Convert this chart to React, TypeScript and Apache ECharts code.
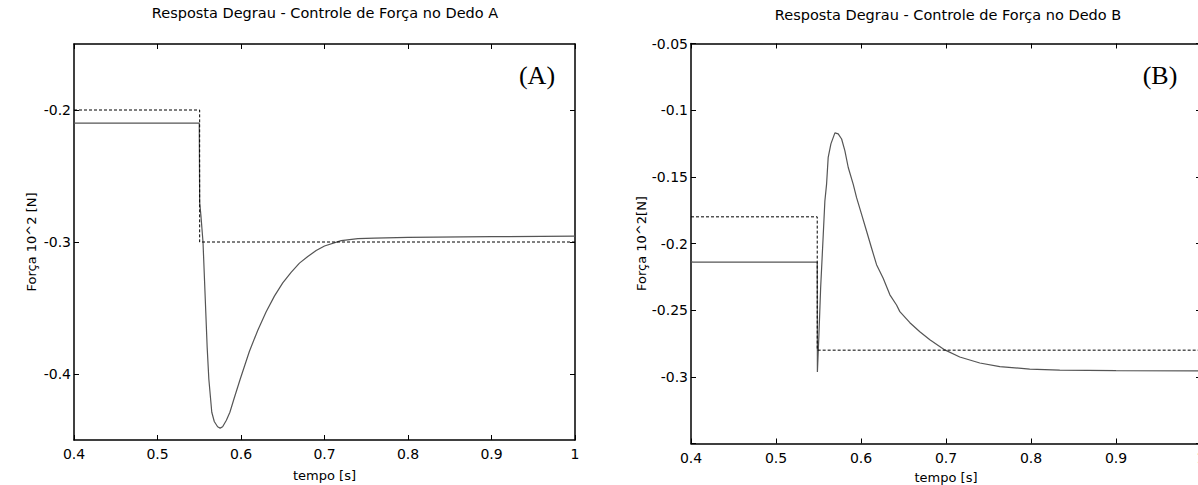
import React, { useEffect, useRef } from "react";
import * as echarts from "echarts";

// ---- Data ----
const xTicks = [0.4, 0.5, 0.6, 0.7, 0.8, 0.9, 1];
const yTicksA = [-0.4, -0.3, -0.2];
const yTicksB = [-0.3, -0.25, -0.2, -0.15, -0.1, -0.05];

const titleA = "Resposta Degrau - Controle de Força no Dedo A";
const titleB = "Resposta Degrau - Controle de Força no Dedo B";
const yNameA = "Força 10^2 [N]";
const yNameB = "Força 10^2[N]";
const xName = "tempo [s]";

// Panel A reference (dashed)
const refATime = [0.4, 0.5505, 0.5505, 1.0];
const refAValue = [-0.2, -0.2, -0.3, -0.3];
// Panel A response (solid)
const respATime = [
  0.4, 0.55, 0.5505, 0.552, 0.5545, 0.557, 0.5595, 0.5615, 0.565, 0.568, 0.572,
  0.575, 0.578, 0.5825, 0.5867, 0.592, 0.599, 0.61, 0.62, 0.63, 0.64, 0.65,
  0.66, 0.67, 0.68, 0.69, 0.7, 0.72, 0.74, 0.76, 0.8, 0.9, 1.0,
];
const respAValue = [
  -0.21, -0.21, -0.27, -0.28, -0.3, -0.34, -0.38, -0.404, -0.429, -0.436, -0.44,
  -0.441, -0.44, -0.435, -0.429, -0.418, -0.404, -0.383, -0.367, -0.353, -0.341,
  -0.331, -0.323, -0.316, -0.311, -0.3065, -0.303, -0.299, -0.2975, -0.297,
  -0.2965, -0.296, -0.2955,
];

// Panel B reference (dashed)
const refBTime = [0.4, 0.5485, 0.5485, 1.0];
const refBValue = [-0.18, -0.18, -0.28, -0.28];
// Panel B response (solid)
const respBTime = [
  0.4, 0.402, 0.5485, 0.5487, 0.5505, 0.5525, 0.5556, 0.5575, 0.5595, 0.5614,
  0.5646, 0.5693, 0.5732, 0.5772, 0.581, 0.585, 0.5908, 0.5948, 0.6007, 0.6066,
  0.6124, 0.6183, 0.6261, 0.634, 0.6418, 0.6457, 0.6575, 0.6692, 0.681, 0.6986,
  0.7162, 0.7398, 0.7633, 0.7985, 0.8338, 0.9, 1.0,
];
const respBValue = [
  -0.2135, -0.214, -0.214, -0.2964, -0.2687, -0.2335, -0.1933, -0.1681, -0.1555,
  -0.1354, -0.1253, -0.117, -0.1178, -0.1216, -0.1304, -0.143, -0.1555, -0.1656,
  -0.1782, -0.1908, -0.2034, -0.2159, -0.226, -0.2385, -0.2461, -0.2511,
  -0.2594, -0.2662, -0.2722, -0.2798, -0.2851, -0.2896, -0.2923, -0.2942,
  -0.2949, -0.2953, -0.2956,
];

const zip = (a: number[], b: number[]) => a.map((t, i) => [t, b[i]]);

const FONT = "DejaVu Sans";
const fmt = (v: number) => String(Number(v.toFixed(2)));

function xAxisPair(gridIndex: number, nameGap: number) {
  const common = {
    type: "value",
    gridIndex,
    min: 0.4,
    max: 1,
    splitLine: { show: false },
    axisLine: { show: true, onZero: false, lineStyle: { color: "#000", width: 1.5 } },
  };
  return [
    {
      ...common,
      position: "bottom",
      name: xName,
      nameLocation: "middle",
      nameGap,
      nameTextStyle: { fontFamily: FONT, fontSize: 13, color: "#000" },
      axisTick: { show: true, inside: true, length: 5, customValues: xTicks, lineStyle: { color: "#000" } },
      axisLabel: {
        show: true,
        customValues: xTicks,
        formatter: fmt,
        margin: 7,
        fontFamily: FONT,
        fontSize: 14,
        color: "#000",
      },
    },
    {
      ...common,
      position: "top",
      axisTick: { show: true, inside: true, length: 5, customValues: xTicks, lineStyle: { color: "#000" } },
      axisLabel: { show: false },
    },
  ];
}

function yAxisPair(gridIndex: number, min: number, max: number, ticks: number[], labels: number[], name: string, nameGap: number) {
  const common = {
    type: "value",
    gridIndex,
    min,
    max,
    splitLine: { show: false },
    axisLine: { show: true, onZero: false, lineStyle: { color: "#000", width: 1.5 } },
  };
  return [
    {
      ...common,
      position: "left",
      name,
      nameLocation: "middle",
      nameGap,
      nameRotate: 90,
      nameTextStyle: { fontFamily: FONT, fontSize: 13, color: "#000" },
      axisTick: { show: true, inside: true, length: 5, customValues: ticks, lineStyle: { color: "#000" } },
      axisLabel: {
        show: true,
        customValues: labels,
        formatter: fmt,
        margin: 3,
        fontFamily: FONT,
        fontSize: 14,
        color: "#000",
      },
    },
    {
      ...common,
      position: "right",
      axisTick: { show: true, inside: true, length: 5, customValues: ticks, lineStyle: { color: "#000" } },
      axisLabel: { show: false },
    },
  ];
}

export default function App() {
  const ref = useRef<HTMLDivElement>(null);
  useEffect(() => {
    if (!ref.current) return;
    const chart = echarts.init(ref.current, undefined, { renderer: "svg" });
    const solid = { color: "#555", width: 1.2 };
    const dashed = { color: "#000", width: 1, type: [3, 2] };
    chart.setOption({
      animation: false,
      backgroundColor: "#fff",
      grid: [
        { left: 74, top: 44, width: 501, height: 396, containLabel: false, outerBoundsMode: "none" },
        { left: 691, top: 43.5, width: 510, height: 400, containLabel: false, outerBoundsMode: "none" },
      ],
      xAxis: [...xAxisPair(0, 29), ...xAxisPair(1, 27)],
      yAxis: [
        ...yAxisPair(0, -0.45, -0.15, [-0.4, -0.3, -0.2], yTicksA, yNameA, 36),
        ...yAxisPair(1, -0.35, -0.05, [-0.35, ...yTicksB], yTicksB, yNameB, 28),
      ],
      series: [
        { type: "line", xAxisIndex: 0, yAxisIndex: 0, data: zip(respATime, respAValue), showSymbol: false, symbol: "none", lineStyle: solid },
        { type: "line", xAxisIndex: 0, yAxisIndex: 0, data: zip(refATime, refAValue), showSymbol: false, symbol: "none", lineStyle: dashed },
        { type: "line", xAxisIndex: 2, yAxisIndex: 2, data: zip(respBTime, respBValue), showSymbol: false, symbol: "none", lineStyle: solid },
        { type: "line", xAxisIndex: 2, yAxisIndex: 2, data: zip(refBTime, refBValue), showSymbol: false, symbol: "none", lineStyle: dashed },
      ],
      graphic: [
        { type: "text", x: 325, y: 13, style: { text: titleA, font: `14.5px "${FONT}"`, fill: "#000", textAlign: "center", textVerticalAlign: "middle" } },
        { type: "text", x: 948, y: 15, style: { text: titleB, font: `14.5px "${FONT}"`, fill: "#000", textAlign: "center", textVerticalAlign: "middle" } },
        { type: "text", x: 537, y: 75, style: { text: "(A)", font: `26px "Liberation Serif"`, fill: "#000", textAlign: "center", textVerticalAlign: "middle" } },
        { type: "text", x: 1160, y: 75, style: { text: "(B)", font: `26px "Liberation Serif"`, fill: "#000", textAlign: "center", textVerticalAlign: "middle" } },
      ],
    });
    return () => chart.dispose();
  }, []);
  return <div ref={ref} style={{ position: "absolute", left: 0, top: 0, width: 1198, height: 485 }} />;
}
